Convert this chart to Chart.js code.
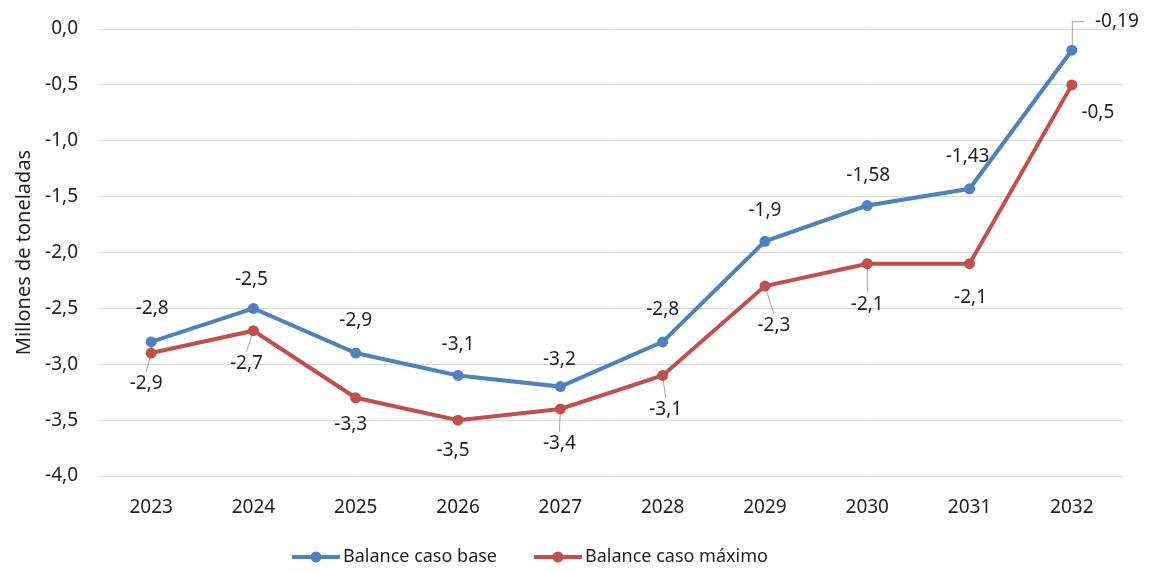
<!DOCTYPE html>
<html>
<head>
<meta charset="utf-8">
<script src="https://cdn.jsdelivr.net/npm/chart.js@4.4.1/dist/chart.umd.min.js"></script>
<style>
  html, body { margin: 0; padding: 0; background: #fff; }
  #grafica { display: block; }
</style>
</head>
<body>
<canvas id="grafica" width="1149" height="571"></canvas>
<script>
// Datos
const anios = ['2023', '2024', '2025', '2026', '2027', '2028', '2029', '2030', '2031', '2032'];
const casoBase = [-2.8, -2.5, -2.9, -3.1, -3.2, -2.8, -1.9, -1.58, -1.43, -0.19];
const casoMaximo = [-2.9, -2.7, -3.3, -3.5, -3.4, -3.1, -2.3, -2.1, -2.1, -0.5];
const ticksY = [0, -0.5, -1, -1.5, -2, -2.5, -3, -3.5, -4];

const AZUL = '#4f81bd';
const ROJO = '#c0504d';
const TEXTO = '#1f1f1f';
const FUENTE = "'Noto Sans', sans-serif";

// Desplazamiento de cada etiqueta respecto a su punto [dx, dy, guia]
const posEtiquetas = [
  [[1, -33], [-2, -29], [0, -32], [0, -31], [-1, -27], [0, -32], [0, -31], [1, -30], [-2, -32], [45, -29, 'codo']],
  [[-5, 31, 'guia'], [-7, 33, 'guia'], [-5, 27], [-5, 30], [-1, 35, 'guia'], [3, 34, 'guia'], [9, 40, 'guia'], [0, 41, 'guia'], [1, 34], [26, 28]]
];

const fmt = v => String(v).replace('.', ',');

// Etiquetas de datos con líneas guía
const etiquetasDatos = {
  id: 'etiquetasDatos',
  beforeDatasetsDraw(chart) {
    const ctx = chart.ctx;
    ctx.save();
    ctx.strokeStyle = '#a6a6a6';
    ctx.lineWidth = 1;
    chart.data.datasets.forEach((ds, i) => {
      chart.getDatasetMeta(i).data.forEach((pt, j) => {
        const [dx, dy, guia] = posEtiquetas[i][j];
        if (!guia) return;
        const lx = pt.x + dx, ly = pt.y + dy;
        ctx.beginPath();
        if (guia === 'codo') {
          ctx.moveTo(pt.x + 0.5, pt.y);
          ctx.lineTo(pt.x + 0.5, ly + 0.5);
          ctx.lineTo(pt.x + 12, ly + 0.5);
        } else {
          ctx.moveTo(pt.x, pt.y);
          ctx.lineTo(lx, ly - (dy > 0 ? 12 : -12));
        }
        ctx.stroke();
      });
    });
    ctx.restore();
  },
  afterDatasetsDraw(chart) {
    const ctx = chart.ctx;
    ctx.save();
    ctx.font = '19px ' + FUENTE;
    ctx.fillStyle = TEXTO;
    ctx.textAlign = 'center';
    ctx.textBaseline = 'middle';
    chart.data.datasets.forEach((ds, i) => {
      chart.getDatasetMeta(i).data.forEach((pt, j) => {
        const [dx, dy] = posEtiquetas[i][j];
        ctx.fillText(fmt(ds.data[j]), pt.x + dx, pt.y + dy);
      });
    });
    ctx.restore();
  }
};

// Leyenda inferior con línea y marcador
const leyenda = {
  id: 'leyenda',
  afterDraw(chart) {
    const ctx = chart.ctx;
    ctx.save();
    ctx.font = '18px ' + FUENTE;
    ctx.textBaseline = 'middle';
    const y = 557;
    let x = 292;
    chart.data.datasets.forEach(ds => {
      ctx.strokeStyle = ds.borderColor;
      ctx.lineWidth = 4;
      ctx.beginPath();
      ctx.moveTo(x, y);
      ctx.lineTo(x + 48, y);
      ctx.stroke();
      ctx.fillStyle = ds.borderColor;
      ctx.beginPath();
      ctx.arc(x + 24, y, 5.5, 0, Math.PI * 2);
      ctx.fill();
      ctx.fillStyle = TEXTO;
      ctx.fillText(ds.label, x + 51, y);
      x += 51 + ctx.measureText(ds.label).width + 37;
    });
    ctx.restore();
  }
};

Chart.defaults.font.family = FUENTE;

new Chart(document.getElementById('grafica'), {
  type: 'line',
  data: {
    labels: anios,
    datasets: [
      {
        label: 'Balance caso base',
        data: casoBase,
        borderColor: AZUL,
        backgroundColor: AZUL,
        borderWidth: 4,
        pointRadius: 5.5,
        pointBorderWidth: 0,
        tension: 0
      },
      {
        label: 'Balance caso máximo',
        data: casoMaximo,
        borderColor: ROJO,
        backgroundColor: ROJO,
        borderWidth: 4,
        pointRadius: 5.5,
        pointBorderWidth: 0,
        tension: 0
      }
    ]
  },
  options: {
    responsive: false,
    animation: false,
    layout: { padding: { top: 29, right: 26, left: 0, bottom: 0 } },
    plugins: {
      legend: { display: false },
      tooltip: { enabled: false }
    },
    scales: {
      x: {
        offset: true,
        grid: { display: false, drawTicks: false },
        border: { display: false },
        ticks: { color: TEXTO, font: { size: 19 }, padding: 20 },
        afterFit: s => { s.height = 95; }
      },
      y: {
        min: -4,
        max: 0,
        grid: { color: '#d9d9d9', lineWidth: 1, drawTicks: false },
        border: { display: false },
        afterBuildTicks: s => { s.ticks = ticksY.map(v => ({ value: v })); },
        ticks: {
          color: TEXTO,
          font: { size: 19 },
          padding: 22,
          callback: v => v.toFixed(1).replace('.', ',').replace('-0,0', '0,0')
        },
        title: {
          display: true,
          text: 'Millones de toneladas',
          color: TEXTO,
          font: { size: 20 },
          padding: { top: 12, bottom: 0 }
        },
        afterFit: s => {
          s.width = 100;
          s.paddingTop = 0;
          s.paddingBottom = 0;
        }
      }
    }
  },
  plugins: [etiquetasDatos, leyenda]
});
</script>
</body>
</html>
